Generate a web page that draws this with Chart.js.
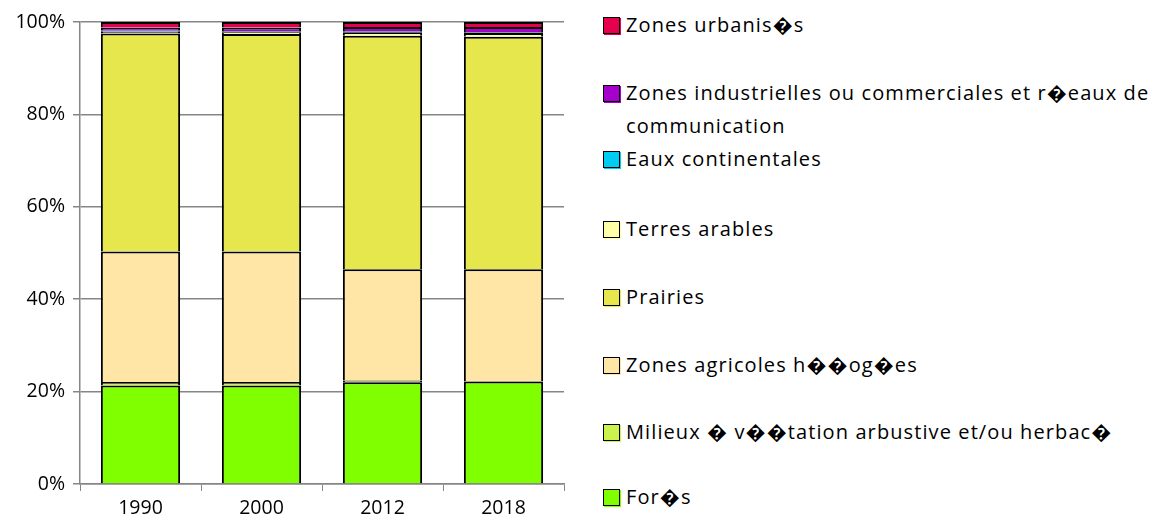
<!DOCTYPE html>
<html>
<head>
<meta charset="utf-8">
<script src="https://cdn.jsdelivr.net/npm/chart.js@4/dist/chart.umd.min.js"></script>
<style>
	body { margin: 0; background: #fff; font-family: 'Open Sans', sans-serif; }
	#wrap { position: relative; width: 1160px; height: 522px; }
	#chart-box { position: absolute; left: 0; top: 0; width: 570px; height: 522px; }
	#legend { position: absolute; left: 603px; top: 0; width: 557px; height: 522px; }
	.item { position: absolute; left: 0; display: flex; align-items: flex-start; font-size: 20px; letter-spacing: 1.1px; line-height: 33px; color: #000; }
	.swatch { width: 15px; height: 15px; border: 1.5px solid #000; box-shadow: 1px 1px 0 var(--c); background: var(--c); margin: 9px 6px 0 0; flex: none; }
</style>
</head>
<body>
<div id="wrap">
	<div id="chart-box"><canvas id="chart"></canvas></div>
	<div id="legend"></div>
</div>
<script>
const years = ['1990', '2000', '2012', '2018'];

// bottom to top
const forets = [21.3, 21.3, 22.0, 22.2];
const milieux = [0.8, 0.8, 0.4, 0.1];
const agricoles = [28.2, 28.2, 24.1, 24.2];
const prairies = [47.2, 47.1, 50.5, 50.3];
const terres = [0.4, 0.4, 0.8, 0.8];
const eaux = [0.2, 0.2, 0.2, 0.2];
const industrielles = [0.7, 0.8, 0.9, 1.1];
const urbanisees = [1.2, 1.2, 1.1, 1.1];

const yTicks = [0, 20, 40, 60, 80, 100];

const series = [
	{ label: 'For\uFFFDs', data: forets, color: '#80ff00' },
	{ label: 'Milieux \uFFFD v\uFFFD\uFFFDtation arbustive et/ou herbac\uFFFD', data: milieux, color: '#ccf24d' },
	{ label: 'Zones agricoles h\uFFFD\uFFFDog\uFFFDes', data: agricoles, color: '#ffe6a6' },
	{ label: 'Prairies', data: prairies, color: '#e6e64d' },
	{ label: 'Terres arables', data: terres, color: '#ffffa8' },
	{ label: 'Eaux continentales', data: eaux, color: '#00ccf2' },
	{ label: 'Zones industrielles ou commerciales et r\uFFFDeaux de communication', data: industrielles, color: '#a600cc' },
	{ label: 'Zones urbanis\uFFFDs', data: urbanisees, color: '#e6004d' }
];

// legend rows, top to bottom
const legendTops = [8, 76, 142, 212, 280, 348, 415, 480];

const grey = '#868686';

const ctx = document.getElementById('chart').getContext('2d');
const chart = new Chart(ctx, {
	type: 'bar',
	data: {
		labels: years,
		datasets: series.map(s => ({
			label: s.label,
			data: s.data,
			backgroundColor: s.color,
			borderColor: '#000',
			borderWidth: 2,
			barPercentage: 0.655,
			categoryPercentage: 1
		}))
	},
	options: {
		responsive: true,
		maintainAspectRatio: false,
		animation: false,
		layout: { padding: { top: 22, right: 6, left: 0, bottom: 0 } },
		plugins: { legend: { display: false }, tooltip: { enabled: false } },
		scales: {
			x: {
				stacked: true,
				offset: true,
				grid: { offset: true, drawOnChartArea: false, color: grey, tickLength: 7 },
				border: { color: grey, width: 1.5 },
				ticks: { color: '#000', padding: 6, font: { family: 'Open Sans', size: 19.5 } },
				afterFit: s => { s.height = 38; }
			},
			y: {
				stacked: true,
				min: 0,
				max: 100,
				afterBuildTicks: s => { s.ticks = yTicks.map(v => ({ value: v })); },
				grid: { color: grey, lineWidth: 1.5, tickLength: 7 },
				border: { color: grey, width: 1.5 },
				ticks: { color: '#000', padding: 8, font: { family: 'Open Sans', size: 19.5 }, callback: v => v + '%' },
				afterFit: s => { s.width = 80; }
			}
		}
	}
});

const legend = document.getElementById('legend');
series.slice().reverse().forEach((s, i) => {
	const row = document.createElement('div');
	row.className = 'item';
	row.style.top = legendTops[i] + 'px';
	const sw = document.createElement('span');
	sw.className = 'swatch';
	sw.style.setProperty('--c', s.color);
	const txt = document.createElement('span');
	txt.textContent = s.label;
	txt.style.maxWidth = '540px';
	row.appendChild(sw);
	row.appendChild(txt);
	legend.appendChild(row);
});
</script>
</body>
</html>
